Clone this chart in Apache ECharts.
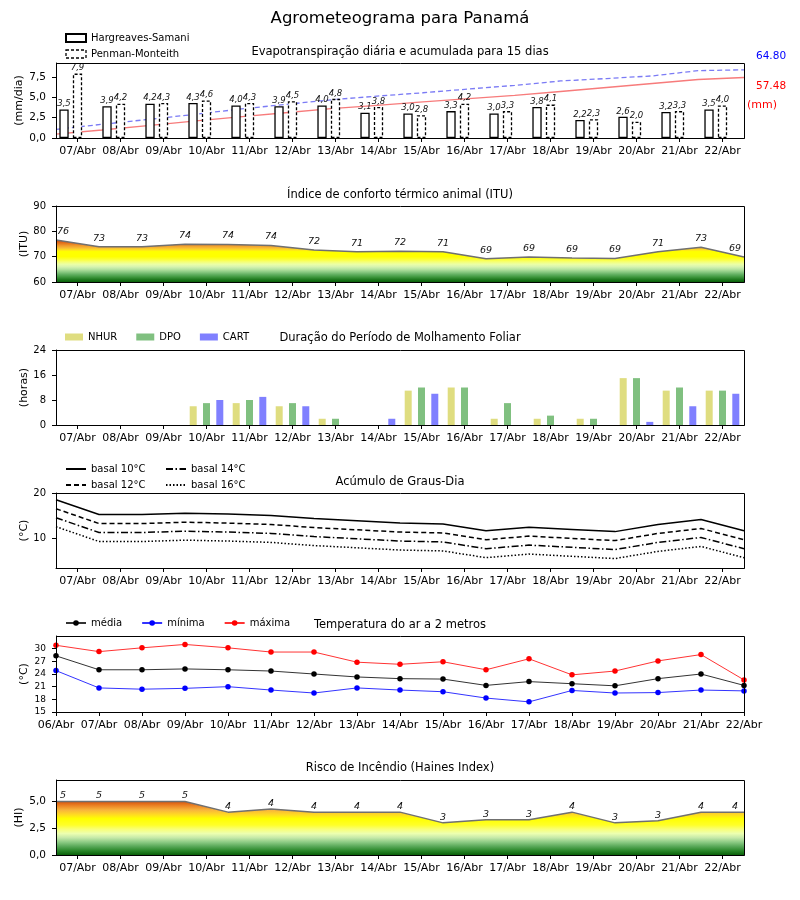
<!DOCTYPE html>
<html><head><meta charset="utf-8">
<script src="https://cdn.jsdelivr.net/npm/echarts@6/dist/echarts.min.js"></script>
<style>html,body{margin:0;padding:0;background:#fff}#c{width:800px;height:900px}</style>
</head><body><div id="c"></div>
<script>
// ---------------- DATA ----------------
const days16 = ['07/Abr','08/Abr','09/Abr','10/Abr','11/Abr','12/Abr','13/Abr','14/Abr','15/Abr','16/Abr','17/Abr','18/Abr','19/Abr','20/Abr','21/Abr','22/Abr'];
const days17 = ['06/Abr','07/Abr','08/Abr','09/Abr','10/Abr','11/Abr','12/Abr','13/Abr','14/Abr','15/Abr','16/Abr','17/Abr','18/Abr','19/Abr','20/Abr','21/Abr','22/Abr'];

const etHS = [3.5,3.9,4.2,4.3,4.0,3.9,4.0,3.1,3.0,3.3,3.0,3.8,2.2,2.6,3.2,3.5];
const etPM = [7.9,4.2,4.3,4.6,4.3,4.5,4.8,3.8,2.8,4.2,3.3,4.1,2.3,2.0,3.3,4.0];
const etHSCum = [3.6,7.6,11.8,16.0,20.0,24.0,27.9,31.1,34.3,37.5,40.6,44.2,48.0,51.8,55.6,57.48];
const etPMCum = [8.2,13.0,17.6,22.4,27.4,31.9,36.3,39.8,43.0,46.6,50.0,54.2,56.5,59.0,64.0,64.80];

const itu = [76.6,73.9,73.9,74.9,74.8,74.4,72.6,71.9,72.1,71.9,69.2,69.9,69.5,69.3,71.9,73.7,69.9];

const nhur = [0,0,0,6,7,6,2,0,11,12,2,2,2,15,11,11];
const dpo  = [0,0,0,7,8,7,2,0,12,12,7,3,2,15,12,11];
const cart = [0,0,0,8,9,6,0,2,10,0,0,0,0,1,6,10];

const gd10 = [18.5,15.2,15.2,15.5,15.3,15.0,14.3,13.8,13.3,13.1,11.6,12.4,11.9,11.4,13.0,14.1,11.6];
const gd12 = [16.5,13.2,13.2,13.5,13.3,13.0,12.3,11.8,11.3,11.1,9.6,10.4,9.9,9.4,11.0,12.1,9.6];
const gd14 = [14.5,11.2,11.2,11.5,11.3,11.0,10.3,9.8,9.3,9.1,7.6,8.4,7.9,7.4,9.0,10.1,7.6];
const gd16 = [12.5,9.2,9.2,9.5,9.3,9.0,8.3,7.8,7.3,7.1,5.6,6.4,5.9,5.4,7.0,8.1,5.6];

const tMed = [28.3,25.0,25.0,25.2,25.0,24.7,24.0,23.3,22.9,22.8,21.3,22.2,21.7,21.2,22.9,24.0,21.3];
const tMin = [24.8,20.7,20.4,20.6,21.0,20.2,19.5,20.7,20.2,19.8,18.3,17.4,20.1,19.5,19.6,20.2,20.0];
const tMax = [30.8,29.3,30.2,31.0,30.2,29.2,29.2,26.8,26.3,26.9,25.0,27.6,23.8,24.7,27.1,28.6,22.6];

const haines = [5.0,5.0,5.0,5.0,4.0,4.3,4.0,4.0,4.0,3.0,3.3,3.3,4.0,3.0,3.2,4.0,4.0];

const etTicks = [0,2.5,5,7.5];
const ituTicks = [60,70,80,90];
const gdTicks = [10,20];
const tTicks = [15,18,21,24,27,30];
const hiTicks = [0,2.5,5];

// ---------------- LAYOUT ----------------
const FONT = 'DejaVu Sans';
const L = 56, W = 688;
const G = [
  {top:63, h:75, name:'(mm/dia)', nx:19},
  {top:206, h:76, name:'(ITU)', nx:24},
  {top:350, h:75, name:'(horas)', nx:24},
  {top:493, h:75, name:'(°C)', nx:24},
  {top:636, h:76, name:'(°C)', nx:24},
  {top:780, h:75, name:'(HI)', nx:19}
];
const fmt1 = v => Number(v).toFixed(1).replace('.', ',');

function visCat(gi, data, bgap) {
  return {type:'category', gridIndex:gi, data:data, boundaryGap:bgap, z:10,
    axisLine:{show:true, lineStyle:{color:'#000', width:1}},
    axisTick:{show:true, alignWithLabel:true, length:4, lineStyle:{color:'#000'}},
    axisLabel:{interval:0, fontSize:11, color:'#000', margin:8, fontFamily:FONT}};
}
function hidCat(gi, data) {
  return {type:'category', gridIndex:gi, data:data, boundaryGap:false, show:false};
}
function yVal(gi, min, max, ticks, fmt, fs) {
  return {type:'value', gridIndex:gi, min:min, max:max, z:10,
    splitLine:{show:false},
    axisLine:{show:true, lineStyle:{color:'#000'}},
    axisTick:{show:true, length:4, customValues:ticks, lineStyle:{color:'#000'}},
    axisLabel:{customValues:ticks, formatter:fmt, fontSize:fs, color:'#000', margin:10, fontFamily:FONT}};
}
function grad(g, min, max, stops) {
  const y0 = g.top + g.h, y1 = g.top;
  return {type:'linear', x:0, y:y0, x2:0, y2:y1, global:true,
    colorStops: stops.map(s => ({offset:(s[0]-min)/(max-min), color:s[1]}))};
}
const ituStops = [[60,'#0a600a'],[61,'#1f7a1f'],[62,'#3f983f'],[63,'#62b062'],[64,'#8ccb84'],[65,'#b6e3a0'],[66,'#d6f3b0'],[67,'#ebffa6'],[68,'#f6ff70'],[69,'#fcff30'],[70,'#ffff00'],[72,'#ffff00'],[72.6,'#ffe21e'],[73.4,'#f8bc34'],[74.4,'#f0982a'],[75.4,'#e4701a'],[76.5,'#d4480a'],[90,'#c03000']];
const hiStops = [[0,'#0a600a'],[0.4,'#2a882a'],[0.8,'#58a858'],[1.2,'#8ccb84'],[1.6,'#c4e8a8'],[2.0,'#ecffb0'],[2.4,'#f8ff78'],[2.8,'#ffff28'],[3.4,'#ffff00'],[3.8,'#ffd824'],[4.2,'#f8b43c'],[4.6,'#ec8424'],[5.0,'#d8540c'],[7,'#c03000']];

const lblItalic = {fontStyle:'italic', color:'#111', fontFamily:FONT};
const edgeShift = (n) => (p) => ({dx: p.dataIndex === 0 ? 7 : (p.dataIndex === n-1 ? -9 : 0), hideOverlap:false});

const barLbl = {show:true, position:'top', distance:1, fontSize:8.5, ...lblItalic, formatter:p => fmt1(p.value)};
const legTxt = {fontSize:10, color:'#000', fontFamily:FONT};
const subT = {fontSize:11.5, fontWeight:'normal', color:'#000', fontFamily:FONT};

const option = {
  animation:false,
  backgroundColor:'#fff',
  textStyle:{fontFamily:FONT},
  title:[
    {text:'Agrometeograma para Panamá', left:'center', top:10, padding:0, textStyle:{fontSize:16.5, fontWeight:'normal', color:'#000', fontFamily:FONT}},
    {text:'Evapotranspiração diária e acumulada para 15 dias', left:'center', top:46, padding:0, textStyle:subT},
    {text:'Índice de conforto térmico animal (ITU)', left:'center', top:189, padding:0, textStyle:subT},
    {text:'Duração do Período de Molhamento Foliar', left:'center', top:332, padding:0, textStyle:subT},
    {text:'Acúmulo de Graus-Dia', left:'center', top:476, padding:0, textStyle:subT},
    {text:'Temperatura do ar a 2 metros', left:'center', top:619, padding:0, textStyle:subT},
    {text:'Risco de Incêndio (Haines Index)', left:'center', top:762, padding:0, textStyle:subT}
  ],
  legend:[
    {data:['Hargreaves-Samani', {name:'Penman-Monteith', itemStyle:{borderType:[3,2], borderColor:'#000', borderWidth:1.3, color:'#fff'}}],
      orient:'vertical', left:65, top:33, padding:0, itemGap:6, itemWidth:20, itemHeight:8, icon:'rect', textStyle:legTxt},
    {data:['NHUR','DPO','CART'], orient:'horizontal', left:65, top:332, padding:0, itemGap:19, itemWidth:18, itemHeight:7, icon:'rect', textStyle:legTxt},
    {data:['basal 10°C','basal 12°C'], orient:'vertical', left:65, top:464, padding:0, itemGap:6, itemWidth:20, itemHeight:8, itemStyle:{opacity:0}, textStyle:legTxt},
    {data:['basal 14°C','basal 16°C'], orient:'vertical', left:165, top:464, padding:0, itemGap:6, itemWidth:20, itemHeight:8, itemStyle:{opacity:0}, textStyle:legTxt},
    {data:['média','mínima','máxima'], orient:'horizontal', left:65, top:618, padding:0, itemGap:19, itemWidth:20, itemHeight:7, textStyle:legTxt}
  ],
  grid: G.map(g => ({left:L, width:W, top:g.top, height:g.h, show:false, containLabel:false})),
  xAxis:[
    visCat(0, days16, true),   //0
    hidCat(0, days16),         //1
    visCat(1, days16, true),   //2
    hidCat(1, days17),         //3
    visCat(2, days16, true),   //4
    visCat(3, days16, true),   //5
    hidCat(3, days17),         //6
    visCat(4, days17, false),  //7
    visCat(5, days16, true),   //8
    hidCat(5, days17)          //9
  ],
  yAxis:[
    yVal(0, 0, 9.2, etTicks, fmt1, 10.5),                                       //0
    {type:'value', gridIndex:0, min:0, max:etPMCum[etPMCum.length-1]*1.1, show:false}, //1
    yVal(1, 60, 90, ituTicks, v => String(v), 10),                              //2
    {...yVal(2, 0, 24, [0,8,16,24], v => String(v), 10), interval:8},           //3
    yVal(3, 3.3, 20, gdTicks, v => String(v), 10),                              //4
    yVal(4, 15, 33, tTicks, v => String(v), 9),                                 //5
    yVal(5, 0, 7, hiTicks, fmt1, 10.5)                                          //6
  ],
  graphic: [
    ...G.map(g => ({type:'rect', z:100, silent:true, shape:{x:L+0.5, y:g.top+0.5, width:W, height:g.h}, style:{fill:'none', stroke:'#000', lineWidth:1}})),
    ...G.map(g => ({type:'text', z:100, silent:true, x:g.nx, y:g.top + g.h/2, rotation:Math.PI/2,
      style:{text:g.name, fill:'#000', font:'11px "DejaVu Sans"', textAlign:'center', textVerticalAlign:'middle', verticalAlign:'middle'}})),
    {type:'text', z:100, x:756, y:56, style:{text:etPMCum[etPMCum.length-1].toFixed(2), fill:'#0000ff', font:'10.5px "DejaVu Sans"', textVerticalAlign:'middle', verticalAlign:'middle'}},
    {type:'text', z:100, x:756, y:86, style:{text:etHSCum[etHSCum.length-1].toFixed(2), fill:'#ff0000', font:'10.5px "DejaVu Sans"', textVerticalAlign:'middle', verticalAlign:'middle'}},
    {type:'text', z:100, x:747, y:105, style:{text:'(mm)', fill:'#ff0000', font:'11px "DejaVu Sans"', textVerticalAlign:'middle', verticalAlign:'middle'}}
  ],
  series:[
    {name:'Hargreaves-Samani', type:'bar', xAxisIndex:0, yAxisIndex:0, data:etHS, barWidth:9.3, barGap:'45%', z:3,
      itemStyle:{color:'#fff', borderColor:'#000', borderWidth:1.3}, label:barLbl},
    {name:'Penman-Monteith', type:'bar', xAxisIndex:0, yAxisIndex:0, data:etPM, barWidth:9.3, barGap:'45%', z:3,
      itemStyle:{color:'#fff', borderColor:'#000', borderWidth:1.3, borderType:[3,2]}, label:barLbl},
    {name:'_pad', type:'bar', xAxisIndex:0, yAxisIndex:0, data:days16.map(() => '-'), barWidth:9.3, barGap:'45%'},
    {name:'HS acumulada', type:'line', xAxisIndex:1, yAxisIndex:1, data:etHSCum, symbol:'none', z:1,
      lineStyle:{color:'#f77b7b', width:1.3}},
    {name:'PM acumulada', type:'line', xAxisIndex:1, yAxisIndex:1, data:etPMCum, symbol:'none', z:1,
      lineStyle:{color:'#7b7bf5', width:1.3, type:[5,3]}},

    {name:'ITU', type:'line', xAxisIndex:3, yAxisIndex:2, data:itu, symbol:'circle', symbolSize:1, showSymbol:true,
      itemStyle:{color:'rgba(0,0,0,0)'},
      lineStyle:{color:'#707070', width:1.5},
      areaStyle:{origin:'start', opacity:1, color:grad(G[1], 60, 90, ituStops)},
      label:{show:true, position:'top', distance:3, fontSize:9.5, ...lblItalic, formatter:p => String(Math.floor(p.value))},
      labelLayout:edgeShift(itu.length)},

    {name:'NHUR', type:'bar', xAxisIndex:4, yAxisIndex:3, data:nhur, barWidth:7, barGap:'90%', itemStyle:{color:'#dfdd80'}},
    {name:'DPO', type:'bar', xAxisIndex:4, yAxisIndex:3, data:dpo, barWidth:7, barGap:'90%', itemStyle:{color:'#80c080'}},
    {name:'CART', type:'bar', xAxisIndex:4, yAxisIndex:3, data:cart, barWidth:7, barGap:'90%', itemStyle:{color:'#8080ff'}},

    {name:'basal 10°C', type:'line', xAxisIndex:6, yAxisIndex:4, data:gd10, symbol:'none', itemStyle:{color:'#000'}, lineStyle:{color:'#000', width:1.5}},
    {name:'basal 12°C', type:'line', xAxisIndex:6, yAxisIndex:4, data:gd12, symbol:'none', itemStyle:{color:'#000'}, lineStyle:{color:'#000', width:1.5, type:[5,3]}},
    {name:'basal 14°C', type:'line', xAxisIndex:6, yAxisIndex:4, data:gd14, symbol:'none', itemStyle:{color:'#000'}, lineStyle:{color:'#000', width:1.5, type:[7,2.5,1.5,2.5]}},
    {name:'basal 16°C', type:'line', xAxisIndex:6, yAxisIndex:4, data:gd16, symbol:'none', itemStyle:{color:'#000'}, lineStyle:{color:'#000', width:1.5, type:[1.5,2]}},

    {name:'média', type:'line', xAxisIndex:7, yAxisIndex:5, data:tMed, symbol:'circle', symbolSize:5.5, itemStyle:{color:'#000'}, lineStyle:{color:'#000', width:1, opacity:0.8}},
    {name:'mínima', type:'line', xAxisIndex:7, yAxisIndex:5, data:tMin, symbol:'circle', symbolSize:5.5, itemStyle:{color:'#0000ff'}, lineStyle:{color:'#0000ff', width:1, opacity:0.8}},
    {name:'máxima', type:'line', xAxisIndex:7, yAxisIndex:5, data:tMax, symbol:'circle', symbolSize:5.5, itemStyle:{color:'#ff0000'}, lineStyle:{color:'#ff0000', width:1, opacity:0.8}},

    {name:'Haines', type:'line', xAxisIndex:9, yAxisIndex:6, data:haines, symbol:'circle', symbolSize:1, showSymbol:true,
      itemStyle:{color:'rgba(0,0,0,0)'},
      lineStyle:{color:'#707070', width:1.5},
      areaStyle:{origin:'start', opacity:1, color:grad(G[5], 0, 7, hiStops)},
      label:{show:true, position:'top', distance:0, fontSize:9.5, ...lblItalic, formatter:p => String(Math.floor(p.value))},
      labelLayout:edgeShift(haines.length)}
  ]
};

const chart = echarts.init(document.getElementById('c'), null, {renderer:'canvas'});
chart.setOption(option);
</script>
</body></html>
